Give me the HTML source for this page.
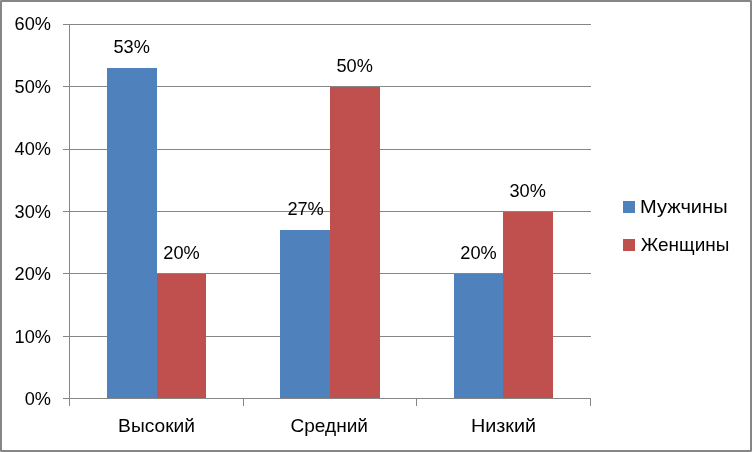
<!DOCTYPE html>
<html lang="ru">
<head>
<meta charset="utf-8">
<title>Диаграмма</title>
<style>
html,body{margin:0;padding:0;background:#fff;}
body{width:752px;height:452px;overflow:hidden;}
svg{display:block;}
text{font-family:"Liberation Sans",sans-serif;font-size:18.2px;fill:#000;}
.grid line{stroke:#868686;stroke-width:1;shape-rendering:crispEdges;}
.c{text-anchor:middle;}
.r{text-anchor:end;}
.l{text-anchor:start;}
</style>
</head>
<body>
<svg width="752" height="452" viewBox="0 0 752 452">
<rect x="0" y="0" width="752" height="452" fill="#fff"/>
<rect x="1" y="1" width="750" height="450" rx="0.2" ry="0.2" fill="none" stroke="#868686" stroke-width="2"/>
<g class="grid">
<line x1="63" x2="591" y1="24.5" y2="24.5"/>
<line x1="63" x2="591" y1="86.5" y2="86.5"/>
<line x1="63" x2="591" y1="149.5" y2="149.5"/>
<line x1="63" x2="591" y1="211.5" y2="211.5"/>
<line x1="63" x2="591" y1="273.5" y2="273.5"/>
<line x1="63" x2="591" y1="336.5" y2="336.5"/>
</g>
<g shape-rendering="crispEdges">
<rect x="107" y="68" width="50" height="330" fill="#4F81BD"/>
<rect x="157" y="274" width="49" height="124" fill="#C0504D"/>
<rect x="280" y="230" width="50" height="168" fill="#4F81BD"/>
<rect x="330" y="87" width="50" height="311" fill="#C0504D"/>
<rect x="454" y="274" width="49" height="124" fill="#4F81BD"/>
<rect x="503" y="212" width="50" height="186" fill="#C0504D"/>
</g>
<g class="grid">
<line x1="63" x2="591" y1="398.5" y2="398.5"/>
<line x1="69.5" x2="69.5" y1="24" y2="406"/>
<line x1="243.5" x2="243.5" y1="398" y2="406"/>
<line x1="416.5" x2="416.5" y1="398" y2="406"/>
<line x1="590.5" x2="590.5" y1="398" y2="406"/>
</g>
<g class="r">
<text x="51" y="30">60%</text>
<text x="51" y="93">50%</text>
<text x="51" y="155">40%</text>
<text x="51" y="218">30%</text>
<text x="51" y="280">20%</text>
<text x="51" y="343">10%</text>
<text x="51" y="405">0%</text>
</g>
<g class="c">
<text x="131.7" y="53">53%</text>
<text x="181.5" y="259">20%</text>
<text x="305.6" y="215">27%</text>
<text x="354.7" y="72">50%</text>
<text x="478.5" y="259">20%</text>
<text x="527.7" y="197">30%</text>
<text x="118.1" y="432" class="l" textLength="77" lengthAdjust="spacingAndGlyphs">Высокий</text>
<text x="290.5" y="432" class="l" textLength="77.5" lengthAdjust="spacingAndGlyphs">Средний</text>
<text x="470.9" y="432" class="l" textLength="65.2" lengthAdjust="spacingAndGlyphs">Низкий</text>
</g>
<rect x="623" y="201" width="12" height="12" fill="#4F81BD" shape-rendering="crispEdges"/>
<rect x="623" y="239" width="12" height="12" fill="#C0504D" shape-rendering="crispEdges"/>
<text x="640" y="213" textLength="87.6" lengthAdjust="spacingAndGlyphs">Мужчины</text>
<text x="640.8" y="251" textLength="88.5" lengthAdjust="spacingAndGlyphs">Женщины</text>
</svg>
</body>
</html>
